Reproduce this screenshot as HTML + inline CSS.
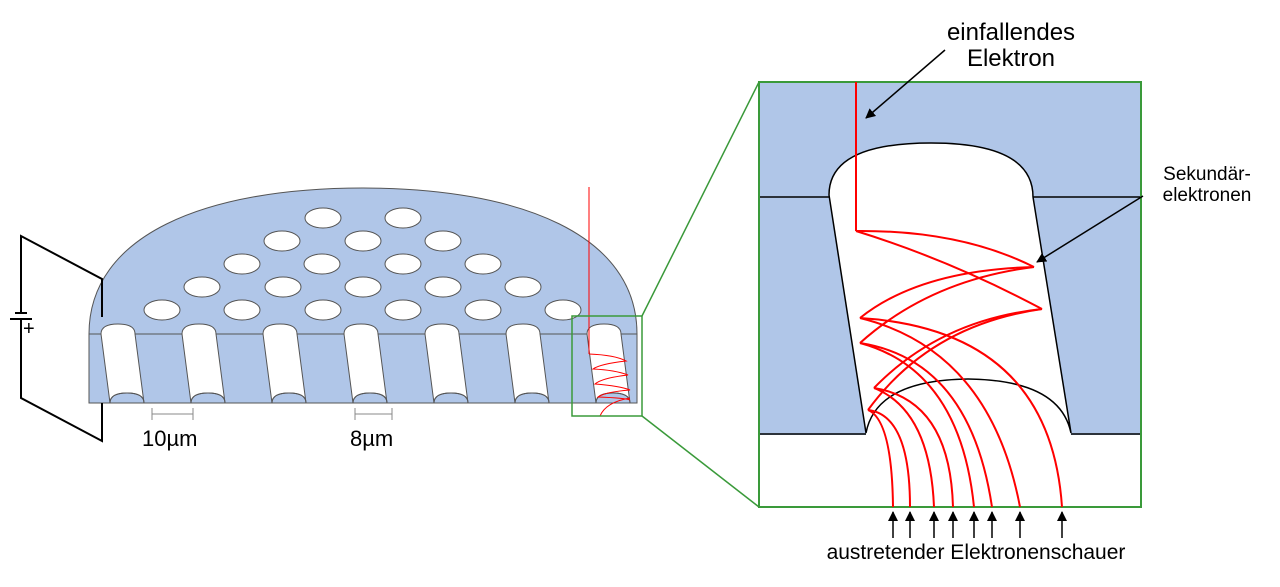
<!DOCTYPE html>
<html><head><meta charset="utf-8"><style>
html,body{margin:0;padding:0;background:#fff;width:1280px;height:587px;overflow:hidden}
svg{display:block;font-family:"Liberation Sans",sans-serif}
</style></head><body>
<svg width="1280" height="587" viewBox="0 0 1280 587">
<defs><marker id="ah" markerWidth="10" markerHeight="10" refX="9" refY="5" orient="auto" markerUnits="userSpaceOnUse"><path d="M0,0 L10,5 L0,10 z" fill="#000"/></marker></defs>
<g>
<path d="M89,334 C89,235 205,188 363,188 C521,188 637,235 637,334 Z" fill="#b0c6e8" stroke="#555" stroke-width="1"/>
<rect x="89" y="334" width="548" height="69" fill="#b0c6e8" stroke="#555" stroke-width="1"/>
<g id="holes" fill="#fff" stroke="#555" stroke-width="1"></g>
<g id="channels"></g>
</g>
<g stroke="#000" stroke-width="2" fill="none">
<polyline points="102,317 102,279 21,236 21,313"/>
<line x1="15" y1="313" x2="27" y2="313"/>
<line x1="10" y1="319" x2="32" y2="319"/>
<polyline points="21,319 21,398 102,441 102,403"/>
</g>
<text x="23" y="335" font-size="20">+</text>
<g stroke="#888" stroke-width="1">
<line x1="152" y1="414" x2="193" y2="414"/><line x1="152" y1="408" x2="152" y2="420"/><line x1="193" y1="408" x2="193" y2="420"/>
<line x1="355" y1="414" x2="392" y2="414"/><line x1="355" y1="408" x2="355" y2="420"/><line x1="392" y1="408" x2="392" y2="420"/>
</g>
<text x="142" y="446" font-size="22">10µm</text>
<text x="350" y="446" font-size="22">8µm</text>
<g stroke="red" stroke-width="1" fill="none">
<polyline points="589,187 589,354"/>
<path d="M589,354 Q615,355 626,361 Q600,364 593,369 Q615,370 628,375 Q602,378 595,384 Q620,386 630,390 Q605,392 598,397 Q625,398 630,400"/>
<path d="M600,416 Q606,402 630,398"/>
</g>
<g stroke="#3a9a3a" stroke-width="1.5" fill="none">
<rect x="572" y="316" width="70" height="100"/>
<line x1="642" y1="316" x2="759" y2="82"/>
<line x1="642" y1="416" x2="759" y2="507"/>
</g>
<g>
<path d="M759,82 H1141 V435 H1071 Q1060,380 968,379 Q876,380 866,433 L866,435 H759 Z" fill="#b0c6e8"/>
<path d="M829,195 Q829,143 931,143 Q1033,143 1033,197 L1071,433 Q1060,380 968,379 Q876,380 866,433 Z" fill="#fff" stroke="#000" stroke-width="1.5"/>
<g stroke="#000" stroke-width="1.5"><line x1="759" y1="197" x2="829" y2="197"/><line x1="1033" y1="197" x2="1141" y2="197"/>
<line x1="759" y1="434" x2="866" y2="434"/><line x1="1071" y1="434" x2="1141" y2="434"/></g>
<rect x="759" y="82" width="382" height="425" fill="none" stroke="#3a9a3a" stroke-width="2"/>
</g>
<g stroke="red" stroke-width="2" fill="none">
<polyline points="856,82 856,231"/>
<path d="M856,231 Q960,230 1034,267"/>
<path d="M856,231 Q950,260 1042,309"/>
<path d="M1034,267 Q920,270 860,318"/>
<path d="M1034,267 Q930,280 860,343"/>
<path d="M1042,309 Q940,320 874,388"/>
<path d="M1042,309 Q930,325 868,410"/>
<path d="M860,318 Q1050,330 1062,507"/>
<path d="M860,318 Q990,350 1020,507"/>
<path d="M860,343 Q970,360 992,507"/>
<path d="M860,343 Q960,370 974,507"/>
<path d="M874,388 Q950,400 953,507"/>
<path d="M874,388 Q930,410 934,507"/>
<path d="M868,410 Q910,415 910,507"/>
<path d="M868,410 Q892,420 893,507"/>
</g>
<g stroke="#000" stroke-width="1.5">
<line x1="893" y1="538" x2="893" y2="512" marker-end="url(#ah)"/>
<line x1="910" y1="538" x2="910" y2="512" marker-end="url(#ah)"/>
<line x1="934" y1="538" x2="934" y2="512" marker-end="url(#ah)"/>
<line x1="953" y1="538" x2="953" y2="512" marker-end="url(#ah)"/>
<line x1="974" y1="538" x2="974" y2="512" marker-end="url(#ah)"/>
<line x1="992" y1="538" x2="992" y2="512" marker-end="url(#ah)"/>
<line x1="1020" y1="538" x2="1020" y2="512" marker-end="url(#ah)"/>
<line x1="1062" y1="538" x2="1062" y2="512" marker-end="url(#ah)"/>
</g>
<text x="976" y="559" font-size="21" text-anchor="middle">austretender Elektronenschauer</text>
<text x="1011" y="40" font-size="24" text-anchor="middle"><tspan x="1011">einfallendes</tspan><tspan x="1011" dy="26">Elektron</tspan></text>
<line x1="945" y1="50" x2="866" y2="118" stroke="#000" stroke-width="1.5" marker-end="url(#ah)"/>
<text x="1207" y="180" font-size="19" text-anchor="middle"><tspan x="1207">Sekundär-</tspan><tspan x="1207" dy="21">elektronen</tspan></text>
<line x1="1143" y1="196" x2="1037" y2="262" stroke="#000" stroke-width="1.5" marker-end="url(#ah)"/>
</svg>
<script>
const ns='http://www.w3.org/2000/svg';
const holeRows=[[218,[323,403]],[241,[282,363,443]],[264,[242,322,403,483]],[287,[202,283,363,443,523]],[310,[162,242,323,403,483,563]]];
const hg=document.getElementById('holes');
holeRows.forEach(([y,xs])=>xs.forEach(x=>{
 const e=document.createElementNS(ns,'ellipse');
 e.setAttribute('cx',x);e.setAttribute('cy',y);e.setAttribute('rx',18);e.setAttribute('ry',10);
 
 
 hg.appendChild(e);}));
const chX=[101,182,263,344,425,506,587];
const cg=document.getElementById('channels');
chX.forEach(x=>{
 const p=document.createElementNS(ns,'path');
 const w=34,s=9;
 p.setAttribute('d',`M${x},334 Q${x},324 ${x+w/2},324 Q${x+w},324 ${x+w},334 L${x+w+s},403 Q${x+w+s},393 ${x+w/2+s},393 Q${x+s},393 ${x+s},403 Z`);
 p.setAttribute('fill','#fff');p.setAttribute('stroke','#555');p.setAttribute('stroke-width','1');
 
 
 cg.appendChild(p);
 const b=document.createElementNS(ns,'path');
 b.setAttribute('d',`M${x+s},403 Q${x+s},393 ${x+w/2+s},393 Q${x+w+s},393 ${x+w+s},403`);
 b.setAttribute('fill','none');b.setAttribute('stroke','#555');
 
 
 cg.appendChild(b);
});
</script>
</body></html>
